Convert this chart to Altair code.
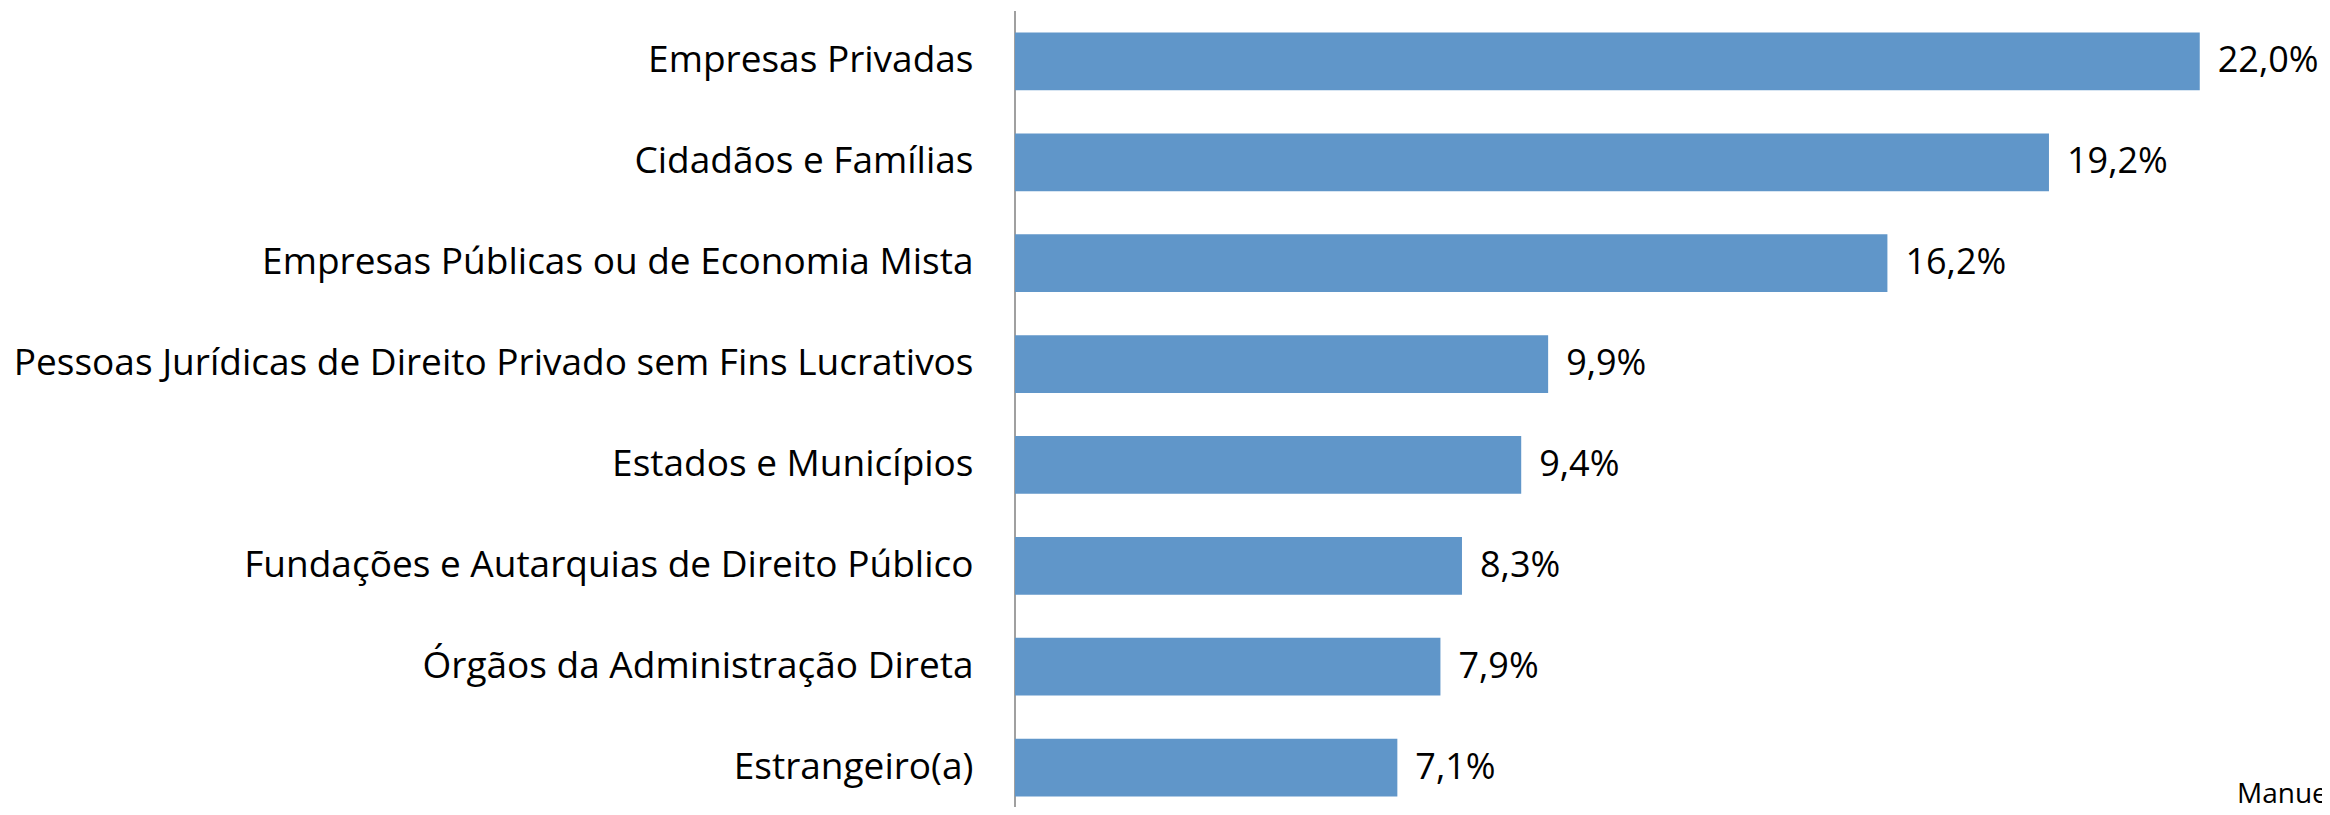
import altair as alt
import pandas as pd

categories = [
    "Empresas Privadas",
    "Cidadãos e Famílias",
    "Empresas Públicas ou de Economia Mista",
    "Pessoas Jurídicas de Direito Privado sem Fins Lucrativos",
    "Estados e Municípios",
    "Fundações e Autarquias de Direito Público",
    "Órgãos da Administração Direta",
    "Estrangeiro(a)",
]
values = [22.0, 19.2, 16.2, 9.9, 9.4, 8.3, 7.9, 7.1]
value_labels = ["22,0%", "19,2%", "16,2%", "9,9%", "9,4%", "8,3%", "7,9%", "7,1%"]
credit = ["Manue"]

df = pd.DataFrame({"cat": categories, "val": values, "label": value_labels})

W, H = 1307, 785
FONT = "Open Sans"
FS = 37

yscale = alt.Scale(paddingInner=0.427, paddingOuter=0.104)
xscale = alt.Scale(domain=[0, 24.27])

bars = alt.Chart(df).mark_bar(color="#6096C9").encode(
    x=alt.X("val:Q", scale=xscale, axis=None),
    y=alt.Y("cat:N", sort=categories, scale=yscale,
            axis=alt.Axis(title=None, domain=False, ticks=False, labelFontSize=FS,
                          labelFont=FONT, labelColor="black", labelPadding=42,
                          labelLimit=0)),
)

text = alt.Chart(df).mark_text(align="left", baseline="middle", dx=18, font=FONT,
                               fontSize=36, color="black").encode(
    x=alt.X("val:Q", scale=xscale),
    y=alt.Y("cat:N", sort=categories, scale=yscale),
    text="label:N",
)

rule = alt.Chart(pd.DataFrame({"a": [0]})).mark_rule(color="#A0A0A0", strokeWidth=2).encode(
    x=alt.value(0), y=alt.value(-11), y2=alt.value(H + 20)
)

credit_txt = alt.Chart(pd.DataFrame({"t": credit})).mark_text(
    align="left", baseline="alphabetic", font=FONT, fontSize=28, color="black"
).encode(x=alt.value(1222), y=alt.value(781), text="t:N")

chart = alt.layer(rule, bars, text, credit_txt).properties(
    width=W, height=H,
    autosize=alt.AutoSizeParams(type="none"),
    padding={"left": 1007, "top": 14, "right": 0, "bottom": 0},
).configure_view(stroke=None)

chart.save("out.html", embed_options={"renderer": "svg", "actions": False})
